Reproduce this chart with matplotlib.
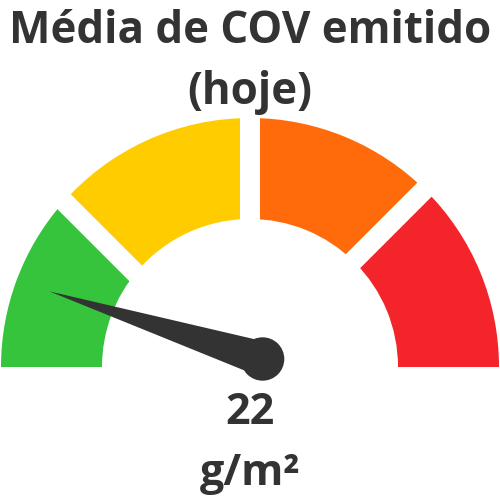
import numpy as np
import matplotlib
matplotlib.use("Agg")
import matplotlib.pyplot as plt
from matplotlib.patches import Wedge, Polygon, Circle

# gauge data
title_lines = ["Média de COV emitido", "(hoje)"]
value = 22
unit = "g/m²"
gauge_min, gauge_max = 0, 225
band_edges = [0, 51, 112.5, 168.75, 225]
band_colors = ["#35c43b", "#ffcc00", "#ff6b0b", "#f3242a"]

dark = "#333333"
R_out, R_in = 249, 148
gap = 20
gap_dirs = [135, 90, 45]      # gap strips run along these angles
gap_shift = [-14.6, 0, -2]    # sideways shift of each gap, px


def to_angle(v):
    return 180 - (v - gauge_min) / (gauge_max - gauge_min) * 180


plt.rcParams['font.family'] = ['Open Sans', 'DejaVu Sans']

fig = plt.figure(figsize=(5, 5), dpi=100)
ax = fig.add_axes([0, 0, 1, 1])
ax.set_xlim(-250, 250)
ax.set_ylim(-133, 367)
ax.set_aspect('equal')
ax.axis('off')

# coloured bands
for i, c in enumerate(band_colors):
    a1 = to_angle(band_edges[i])
    a0 = to_angle(band_edges[i + 1])
    ax.add_patch(Wedge((0, 0), R_out, a0, a1, width=R_out - R_in, color=c, lw=0))

# white gaps between bands
for ang, d in zip(gap_dirs, gap_shift):
    t = np.radians(ang)
    u = np.array([np.cos(t), np.sin(t)])
    n = np.array([np.sin(t), -np.cos(t)])
    pts = [n * (d - gap / 2) + u * 90, n * (d + gap / 2) + u * 90,
           n * (d + gap / 2) + u * 270, n * (d - gap / 2) + u * 270]
    ax.add_patch(Polygon(pts, closed=True, color='white', lw=0))

# needle
pivot = np.array([12.6, 8.0])
t = np.radians(to_angle(value))
u = np.array([np.cos(t), np.sin(t)])
n = np.array([np.sin(t), -np.cos(t)])
needle = [pivot + u * 223.7, pivot + n * 17.5, pivot - n * 17.5]
ax.add_patch(Polygon(needle, closed=True, color=dark, lw=0))
ax.add_patch(Circle(pivot, 21.7, color=dark, lw=0))

# texts
ax.text(0, 323.7, title_lines[0], ha='center', va='baseline', fontsize=31.6,
        fontweight='bold', color=dark)
ax.text(0, 263, title_lines[1], ha='center', va='baseline', fontsize=31.6,
        fontweight='bold', color=dark)
ax.text(0, -57.3, str(value), ha='center', va='baseline', fontsize=31,
        fontweight='bold', color=dark)
ax.text(0, -118, unit, ha='center', va='baseline', fontsize=31,
        fontweight='bold', color=dark)

fig.savefig("out.png", dpi=100)
